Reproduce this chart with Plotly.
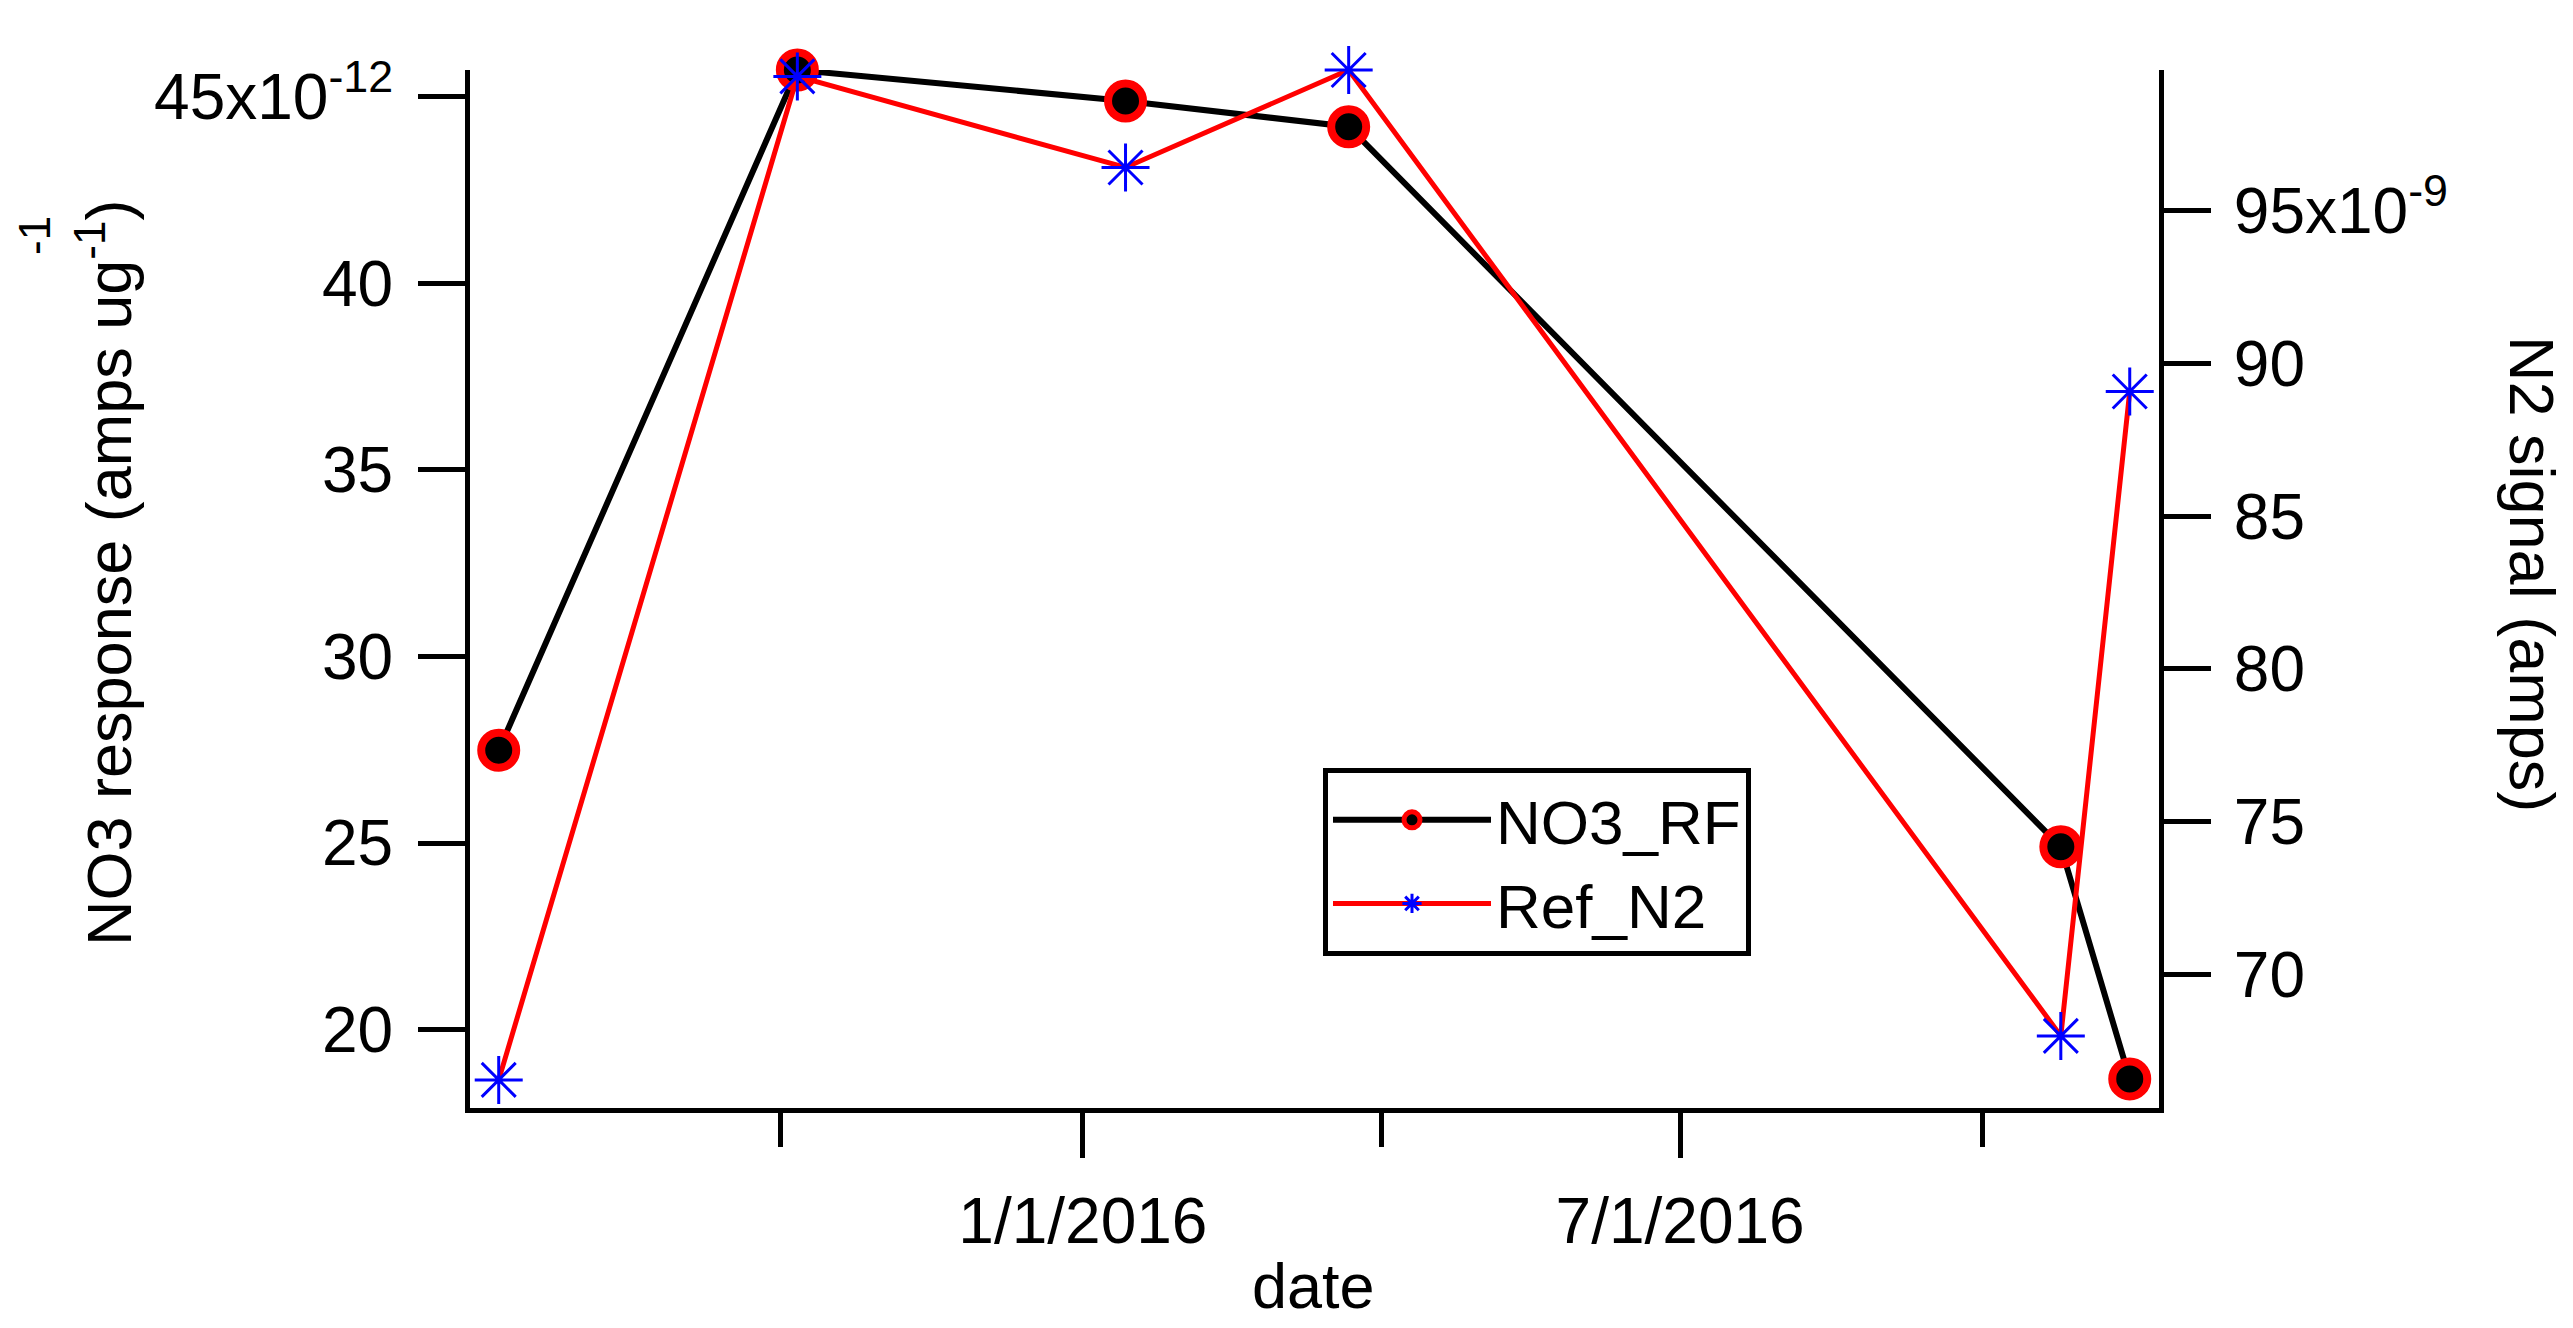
import plotly.graph_objects as go

# ---- data ----
dates = ["2015-07-07", "2015-10-06", "2016-01-14", "2016-03-22", "2016-10-25", "2016-11-15"]
no3_rf = [27.49, 45.72, 44.89, 44.20, 24.90, 18.68]      # x10^-12 amps ug-1
ref_n2 = [66.55, 99.39, 96.41, 99.60, 67.99, 89.08]      # x10^-9 amps

left_tickvals = [20, 25, 30, 35, 40, 45]
left_ticktext = ["20", "25", "30", "35", "40", "45x10<sup>-12</sup>"]
right_tickvals = [70, 75, 80, 85, 90, 95]
right_ticktext = ["70", "75", "80", "85", "90", "95x10<sup>-9</sup>"]
x_major_vals = ["2016-01-01", "2016-07-01"]
x_major_text = ["1/1/2016", "7/1/2016"]
x_minor_vals = ["2015-10-01", "2016-04-01", "2016-10-01"]

FONT = "Liberation Sans, Arial, sans-serif"
FS = 64
# screen geometry (page has an 8px body margin)
SCR_W, SCR_H, OFF = 2573, 1328, 8
W, H = SCR_W - OFF, SCR_H - OFF
L, R, T, B = 470, 2159, 70, 1108   # plot area in screen pixels


def px_x(px):
    return (px - L) / (R - L)


def px_y(py):
    return (B - py) / (B - T)


fig = go.Figure()
fig.add_trace(go.Scatter(
    x=dates, y=no3_rf, name="NO3_RF", mode="lines+markers", yaxis="y",
    line=dict(color="black", width=6),
    marker=dict(symbol="circle", size=35, color="black",
                line=dict(color="#ff0000", width=8)),
    cliponaxis=False,
))
fig.add_trace(go.Scatter(
    x=dates, y=ref_n2, name="Ref_N2", mode="lines+markers", yaxis="y2",
    line=dict(color="#ff0000", width=5),
    marker=dict(symbol="asterisk-open", size=40, color="#0000ff",
                line=dict(color="#0000ff", width=3)),
    cliponaxis=False,
))

axis_common = dict(
    showline=True, linecolor="black", linewidth=5,
    ticks="outside", tickcolor="black", tickwidth=5,
    showgrid=False, zeroline=False,
    tickfont=dict(family=FONT, size=FS, color="black"),
)

fig.update_layout(
    width=W, height=H,
    margin=dict(l=L - OFF, r=SCR_W - R, t=T - OFF, b=SCR_H - B, pad=0),
    paper_bgcolor="white", plot_bgcolor="white",
    font=dict(family=FONT, size=FS, color="black"),
    xaxis=dict(
        **axis_common,
        type="date",
        range=["2015-06-28 06:00", "2016-11-23 22:00"],
        tickmode="array", tickvals=x_major_vals, ticktext=x_major_text,
        ticklen=45, ticklabelstandoff=8,
        minor=dict(tickmode="array", tickvals=x_minor_vals, ticks="outside",
                   ticklen=34, tickwidth=5, tickcolor="black", showgrid=False),
    ),
    yaxis=dict(
        **axis_common,
        range=[17.90, 45.72],
        tickmode="array", tickvals=left_tickvals, ticktext=left_ticktext,
        ticklen=47, ticklabelstandoff=12,
    ),
    yaxis2=dict(
        **axis_common,
        overlaying="y", side="right",
        range=[65.63, 99.60],
        tickmode="array", tickvals=right_tickvals, ticktext=right_ticktext,
        ticklen=47, ticklabelstandoff=10,
    ),
    legend=dict(
        x=px_x(1323), y=px_y(768), xanchor="left", yanchor="top",
        bgcolor="white", bordercolor="black", borderwidth=5,
        font=dict(family=FONT, size=62, color="black"),
        itemwidth=158,
    ),
    showlegend=True,
)

annotations = [
    dict(text="NO3 response (amps ug<sup>-1</sup>)", textangle=-90,
         x=px_x(104), y=px_y(573), xref="paper", yref="paper",
         xanchor="center", yanchor="middle", showarrow=False,
         font=dict(family=FONT, size=63, color="black")),
    dict(text="-1", textangle=-90,
         x=px_x(34), y=px_y(235), xref="paper", yref="paper",
         xanchor="center", yanchor="middle", showarrow=False,
         font=dict(family=FONT, size=44, color="black")),
    dict(text="N2 signal (amps)", textangle=90,
         x=px_x(2532), y=px_y(574), xref="paper", yref="paper",
         xanchor="center", yanchor="middle", showarrow=False,
         font=dict(family=FONT, size=63, color="black")),
    dict(text="date",
         x=px_x(1313), y=px_y(1286), xref="paper", yref="paper",
         xanchor="center", yanchor="middle", showarrow=False,
         font=dict(family=FONT, size=63, color="black")),
]
fig.update_layout(annotations=annotations)

fig.write_html("out.html")
